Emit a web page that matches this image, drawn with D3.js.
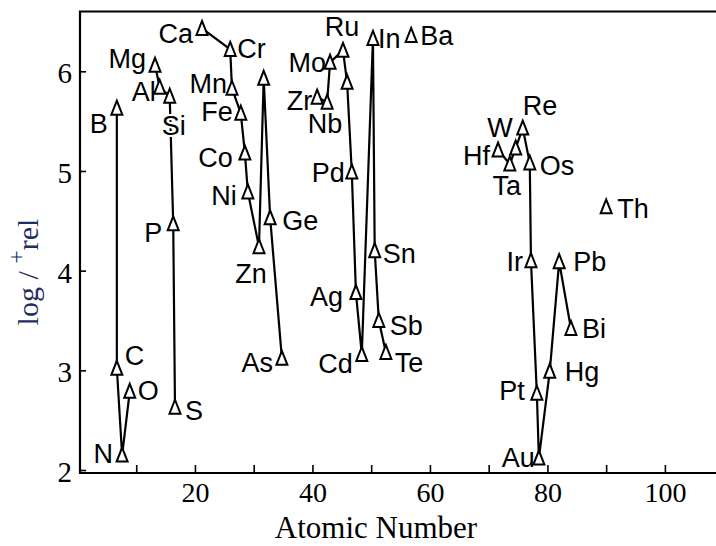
<!DOCTYPE html>
<html>
<head>
<meta charset="utf-8">
<script src="https://cdn.jsdelivr.net/npm/d3@7"></script>
<style>
  body { margin: 0; background: #fff; }
  svg { display: block; }
</style>
</head>
<body>
<div id="container"></div>
<script>
// values
const elements = ["B", "C", "N", "O", "Mg", "Al", "Si", "P", "S",
  "Ca", "Cr", "Mn", "Fe", "Co", "Ni", "Zn", "Ga", "Ge", "As",
  "Zr", "Nb", "Mo", "Ru", "Rh", "Pd", "Ag", "Cd", "In", "Sn", "Sb", "Te", "Ba",
  "Hf", "Ta", "W", "Re", "Os", "Ir", "Pt", "Au", "Hg", "Pb", "Bi", "Th"];
const atomicNumber = [6.7, 6.7, 7.6, 8.9, 13.2, 14.0, 15.7, 16.3, 16.6,
  21.2, 26.0, 26.3, 27.8, 28.5, 29.0, 30.9, 31.7, 32.8, 34.8,
  40.8, 42.5, 43.0, 45.2, 45.9, 46.7, 47.4, 48.4, 50.3, 50.6, 51.3, 52.5, 56.8,
  71.6, 73.6, 74.6, 75.8, 77.0, 77.2, 78.2, 78.55, 80.4, 82.0, 84.0, 90.0];
const logIrel = [5.63, 3.02, 2.15, 2.79, 6.06, 5.84, 5.75, 4.47, 2.63,
  6.43, 6.22, 5.83, 5.58, 5.18, 4.79, 4.24, 5.93, 4.53, 3.12,
  5.74, 5.69, 6.09, 6.21, 5.89, 4.99, 3.78, 3.16, 6.33, 4.20, 3.50, 3.18, 6.36,
  5.21, 5.07, 5.23, 5.43, 5.08, 4.10, 2.77, 2.12, 2.99, 4.09, 3.42, 4.64];
const chains = [
  ["B", "C", "N", "O"],
  ["Mg", "Al", "Si", "P", "S"],
  ["Ca", "Cr", "Mn", "Fe", "Co", "Ni", "Zn", "Ga", "Ge", "As"],
  ["Zr", "Nb", "Mo", "Ru", "Rh", "Pd", "Ag", "Cd", "In", "Sn", "Sb", "Te"],
  ["Hf", "Ta", "W", "Re", "Os", "Ir", "Pt", "Au", "Hg", "Pb", "Bi"]
];
const xTicks = [10, 20, 30, 40, 50, 60, 70, 80, 90, 100];
const xTickLabels = [20, 40, 60, 80, 100];
const yTicks = [2, 3, 4, 5, 6];

// where each label sits next to its marker: [anchor, dx, baseline dy]
const labelAt = {
  B: ["end", -9, 25], C: ["start", 8, -3], N: ["end", -9, 8], O: ["start", 8, 9],
  Mg: ["end", -9, 3], Al: ["end", -4, 14], Si: ["middle", 4, 39], P: ["end", -11, 18], S: ["start", 10, 13],
  Ca: ["end", -9, 15], Cr: ["start", 7, 9], Mn: ["end", -5, 5], Fe: ["end", -8, 8], Co: ["end", -12, 14],
  Ni: ["end", -11, 13], Zn: ["middle", -8, 36], Ge: ["start", 12, 12], As: ["end", -9, 14],
  Zr: ["end", -5, 13], Nb: ["middle", -2, 31], Mo: ["end", -4, 10], Ru: ["middle", -1, -14],
  Pd: ["end", -7, 10], Ag: ["end", -13, 13], Cd: ["end", -9, 19], In: ["start", 5, 10],
  Sn: ["start", 8, 12], Sb: ["start", 11, 15], Te: ["start", 9, 20], Ba: ["start", 9, 10],
  Hf: ["end", -8, 15], Ta: ["middle", -3, 31], W: ["end", -3, -11], Re: ["start", 0, -13],
  Os: ["start", 10, 12], Ir: ["end", -8, 10], Pt: ["end", -12, 7], Au: ["end", -4, 9],
  Hg: ["start", 15, 10], Pb: ["start", 14, 9], Bi: ["start", 11, 10], Th: ["start", 11, 11]
};

const width = 716;
const height = 546;
const marginTop = 11.5;
const marginBottom = 73;
const marginLeft = 80;

const data = elements.map((el, i) => ({ el, z: atomicNumber[i], v: logIrel[i] }));
const byEl = new Map(data.map(d => [d.el, d]));

const x = d3.scaleLinear()
  .domain([0.43, 108.7])
  .range([marginLeft, width]);

const y = d3.scaleLinear()
  .domain([1.97, 6.6])
  .range([height - marginBottom, marginTop]);

const svg = d3.create("svg")
  .attr("width", width)
  .attr("height", height);

// x axis
const xAxis = svg.append("g")
  .attr("transform", `translate(0,${height - marginBottom})`)
  .call(d3.axisBottom(x)
    .tickValues(xTicks)
    .tickSizeInner(-8)
    .tickSizeOuter(0)
    .tickPadding(9)
    .tickFormat(d => xTickLabels.includes(d) ? d : ""));
xAxis.select(".domain").remove();
xAxis.selectAll(".tick line").attr("stroke", "#000").attr("stroke-width", 1.6);
xAxis.selectAll("text")
  .attr("font-family", "'Liberation Serif', 'Times New Roman', serif")
  .attr("font-size", 28)
  .attr("fill", "#000");

// y axis
const yAxis = svg.append("g")
  .attr("transform", `translate(${marginLeft},0)`)
  .call(d3.axisLeft(y)
    .tickValues(yTicks)
    .tickSizeInner(-6)
    .tickSizeOuter(0)
    .tickPadding(8)
    .tickFormat(d3.format("d")));
yAxis.select(".domain").remove();
yAxis.selectAll(".tick line").attr("stroke", "#000").attr("stroke-width", 1.6);
yAxis.selectAll("text")
  .attr("font-family", "'Liberation Serif', 'Times New Roman', serif")
  .attr("font-size", 29)
  .attr("dy", "0.4em")
  .attr("fill", "#000");

// frame (open to the right, cut by the picture edge)
svg.append("path")
  .attr("fill", "none")
  .attr("stroke", "#000")
  .attr("stroke-width", 2.2)
  .attr("d", `M${width + 5},${marginTop}H${marginLeft}V${height - marginBottom}H${width + 5}`);

// connecting lines
const line = d3.line()
  .x(d => x(d.z))
  .y(d => y(d.v));

svg.append("g")
  .attr("fill", "none")
  .attr("stroke", "#000")
  .attr("stroke-width", 2.2)
  .selectAll("path")
  .data(chains)
  .join("path")
  .attr("d", c => line(c.map(el => byEl.get(el))));

// labels with a white halo so the lines pass under them
svg.append("g")
  .attr("font-family", "'Liberation Sans', Arial, sans-serif")
  .attr("font-size", 27)
  .selectAll("text")
  .data(data.filter(d => labelAt[d.el]))
  .join("text")
  .attr("x", d => x(d.z) + labelAt[d.el][1])
  .attr("y", d => y(d.v) + labelAt[d.el][2])
  .attr("text-anchor", d => labelAt[d.el][0])
  .attr("fill", "#000")
  .attr("stroke", "#fff")
  .attr("stroke-width", 4)
  .attr("paint-order", "stroke")
  .text(d => d.el);

// open triangle markers
svg.append("g")
  .selectAll("path")
  .data(data)
  .join("path")
  .attr("transform", d => `translate(${x(d.z)},${y(d.v)})`)
  .attr("d", "M0,-7.5L5.5,6.5L-5.5,6.5Z")
  .attr("fill", "#fff")
  .attr("stroke", "#000")
  .attr("stroke-width", 2)
  .attr("stroke-linejoin", "miter");

// axis titles
svg.append("text")
  .attr("x", 376)
  .attr("y", 538)
  .attr("text-anchor", "middle")
  .attr("font-family", "'Liberation Serif', 'Times New Roman', serif")
  .attr("font-size", 31)
  .attr("fill", "#000")
  .text("Atomic Number");

const yTitle = svg.append("text")
  .attr("transform", "translate(38,272) rotate(-90)")
  .attr("text-anchor", "middle")
  .attr("font-family", "'Liberation Serif', 'Times New Roman', serif")
  .attr("font-size", 30)
  .attr("fill", "#1f2f63");
yTitle.append("tspan").text("log / ");
yTitle.append("tspan").attr("font-size", 24).attr("dy", -14).text("+");
yTitle.append("tspan").attr("dy", 14).text("rel");

d3.select("#container").append(() => svg.node());
</script>
</body>
</html>
